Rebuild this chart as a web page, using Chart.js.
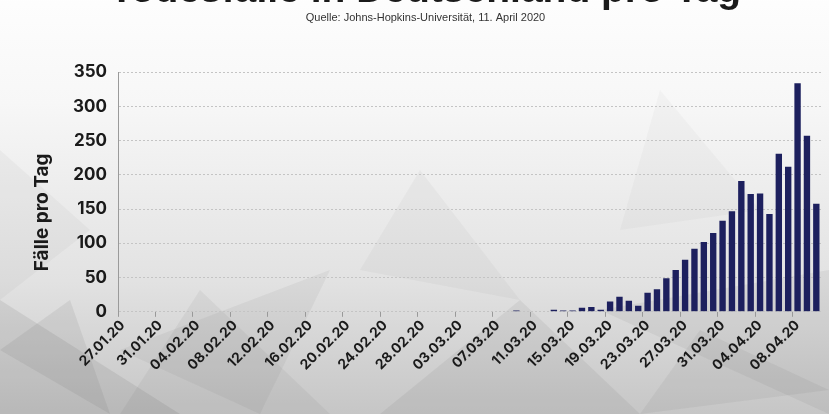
<!DOCTYPE html>
<html>
<head>
<meta charset="utf-8">
<script src="https://cdn.jsdelivr.net/npm/chart.js@4"></script>
<style>
  html, body { margin: 0; padding: 0; }
  body { width: 829px; height: 414px; overflow: hidden; position: relative; background: #f2f2f2; }
  #wrap { position: absolute; left: 0; top: -30px; width: 829px; height: 444px; }
</style>
</head>
<body>
<div id="wrap"><canvas id="chart"></canvas></div>
<script>
// Tage ab 27.01.2020 bis 10.04.2020
const startDate = new Date(2020, 0, 27);
const dayCount = 75;

// Todesfälle pro Tag ab 09.03.20 (vorher 0)
const deathsFromMarch9 = [
  2, 0, 1, 0, 3, 2, 2, 6, 7, 3,
  15, 22, 16, 9, 28, 33, 49, 61, 76, 92,
  102, 115, 133, 147, 191, 172, 173, 143, 231, 212,
  334, 257, 158
];

const yTicks = [0, 50, 100, 150, 200, 250, 300, 350];
const yTitle = "Fälle pro Tag";

function fmt(d) {
  const dd = String(d.getDate()).padStart(2, "0");
  const mm = String(d.getMonth() + 1).padStart(2, "0");
  return `${dd}.${mm}.${String(d.getFullYear()).slice(2)}`;
}

const labels = [];
for (let i = 0; i < dayCount; i++) {
  const d = new Date(startDate);
  d.setDate(d.getDate() + i);
  labels.push(fmt(d));
}
const zeros = new Array(dayCount - deathsFromMarch9.length).fill(0);
const values = zeros.concat(deathsFromMarch9);

// grauer Hintergrund mit ein paar Flächen
const bgPlugin = {
  id: "bg",
  beforeDraw(chart) {
    const { ctx, width, height } = chart;
    ctx.save();
    const g = ctx.createLinearGradient(0, 0, 0, height);
    g.addColorStop(0, "#ffffff");
    g.addColorStop(0.3, "#f7f7f7");
    g.addColorStop(0.7, "#e2e2e2");
    g.addColorStop(1, "#c6c6c6");
    ctx.fillStyle = g;
    ctx.fillRect(0, 0, width, height);
    const shapes = [
      [[0, 330], [180, 444], [0, 444]],
      [[120, 380], [330, 300], [260, 444]],
      [[380, 444], [520, 330], [640, 444]],
      [[600, 340], [829, 300], [829, 444]],
      [[0, 180], [90, 260], [0, 330]],
      [[420, 200], [520, 330], [360, 300]],
      [[660, 120], [760, 240], [620, 260]],
      [[200, 320], [330, 444], [120, 444]],
      [[0, 380], [70, 330], [110, 444]],
      [[700, 360], [829, 420], [640, 444]]
    ];
    const alphas = [0.12, 0.07, 0.09, 0.08, 0.05, 0.05, 0.04, 0.07, 0.1, 0.08];
    shapes.forEach((s, i) => {
      ctx.beginPath();
      ctx.moveTo(s[0][0], s[0][1]);
      for (let k = 1; k < s.length; k++) ctx.lineTo(s[k][0], s[k][1]);
      ctx.closePath();
      ctx.fillStyle = `rgba(90,90,90,${alphas[i]})`;
      ctx.fill();
    });
    ctx.restore();
  }
};

// Achsentitel links, etwas unterhalb der Mitte
const yTitlePlugin = {
  id: "yTitle",
  afterDraw(chart) {
    const { ctx, chartArea } = chart;
    ctx.save();
    ctx.translate(42, chartArea.top + (chartArea.bottom - chartArea.top) * 0.585);
    ctx.rotate(-Math.PI / 2);
    ctx.font = "bold 19px Inter";
    ctx.fillStyle = "#1a1a1a";
    ctx.textAlign = "center";
    ctx.textBaseline = "middle";
    ctx.fillText(yTitle, 0, 0);
    ctx.restore();
  }
};

new Chart(document.getElementById("chart"), {
  type: "bar",
  data: {
    labels: labels,
    datasets: [{
      data: values,
      backgroundColor: "#1d205e",
      barPercentage: 0.68,
      categoryPercentage: 1
    }]
  },
  options: {
    responsive: true,
    maintainAspectRatio: false,
    animation: false,
    layout: { padding: { left: 30, right: 8, top: 0, bottom: 40 } },
    plugins: {
      legend: { display: false },
      tooltip: { enabled: false },
      title: {
        display: true,
        text: "Todesfälle in Deutschland pro Tag",
        color: "#1a1a1a",
        font: { family: "Liberation Sans", size: 39, weight: "bold", lineHeight: 1 },
        padding: { top: 2, bottom: 0 }
      },
      subtitle: {
        display: true,
        text: "Quelle: Johns-Hopkins-Universität, 11. April 2020",
        color: "#333",
        font: { family: "Liberation Sans", size: 11 },
        padding: { top: 0, bottom: 48 }
      }
    },
    scales: {
      x: {
        grid: {
          offset: true,
          drawOnChartArea: false,
          tickLength: 5,
          tickColor: (c) => (c.index % 4 === 0 ? "#999" : "rgba(0,0,0,0)")
        },
        border: { display: false },
        ticks: {
          autoSkip: false,
          maxRotation: 45,
          minRotation: 45,
          padding: 0,
          color: "#1a1a1a",
          font: { family: "Inter", size: 14, weight: "bold" },
          callback: function (v, i) { return i % 4 === 0 ? labels[i] : ""; }
        }
      },
      y: {
        min: 0,
        max: 350,
        afterBuildTicks: (s) => { s.ticks = yTicks.map((v) => ({ value: v })); },
        afterFit: (s) => { s.width = 88; },
        grid: { color: "#c4c4c4", drawTicks: false },
        border: { display: true, color: "#9a9a9a", dash: [2, 2], width: 1 },
        ticks: {
          padding: 11,
          color: "#1a1a1a",
          font: { family: "Inter", size: 17, weight: "bold" }
        }
      }
    }
  },
  plugins: [bgPlugin, yTitlePlugin]
});
</script>
</body>
</html>
